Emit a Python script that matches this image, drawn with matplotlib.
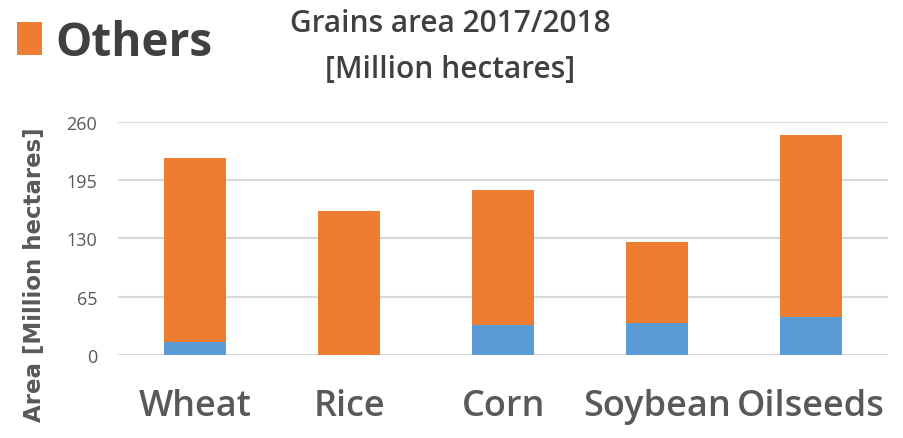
import matplotlib.pyplot as plt
import numpy as np

# Grain area 2017/2018, million hectares
crops = ['Wheat', 'Rice', 'Corn', 'Soybean', 'Oilseeds']
usa = [14.5, 0.0, 33.5, 35.5, 42.0]
others = [205.0, 160.5, 151.0, 90.5, 203.5]
y_ticks = [0, 65, 130, 195, 260]

blue = '#5B9BD5'
orange = '#ED7D31'
grey = '#595959'

plt.rcParams['font.family'] = ['Open Sans', 'DejaVu Sans']

fig = plt.figure(figsize=(9.04, 4.39), dpi=100)
ax = fig.add_axes([0.1305, 0.189, 0.852, 0.531])

x = np.arange(len(crops))
ax.bar(x, usa, width=0.4, color=blue, zorder=3)
bars_others = ax.bar(x, others, width=0.4, bottom=usa, color=orange, zorder=3)

ax.set_xlim(-0.5, len(crops) - 0.5)
ax.set_ylim(0, 260)
ax.set_yticks(y_ticks)
ax.set_xticks(x)
ax.set_xticklabels(crops, fontsize=26, fontweight='semibold', color=grey)
ax.tick_params(axis='x', length=0, pad=24)
ax.tick_params(axis='y', length=0, pad=15, labelsize=13, labelcolor=grey)
ax.grid(axis='y', color='#d9d9d9', linewidth=1.5, zorder=0)
for s in ax.spines.values():
    s.set_visible(False)

fig.text(35 / 904, 0.375, 'Area [Million hectares]', rotation=90,
         ha='center', va='center', fontsize=16.5, fontweight='bold',
         color=grey, family='DejaVu Sans')

fig.text(0.498, 0.893, 'Grains area 2017/2018\n[Million hectares]',
         ha='center', va='center', fontsize=21.5, fontweight='semibold',
         color='#404040', linespacing=1.7)

fig.legend(handles=[bars_others], labels=['Others'], loc='upper left',
           bbox_to_anchor=(12 / 904, 0.966), frameon=False,
           borderaxespad=0, borderpad=0.1,
           prop={'size': 33, 'weight': 'bold'}, labelcolor='#404040',
           handlelength=0.55, handleheight=0.7, handletextpad=0.3)

fig.savefig('out.png', dpi=100)
